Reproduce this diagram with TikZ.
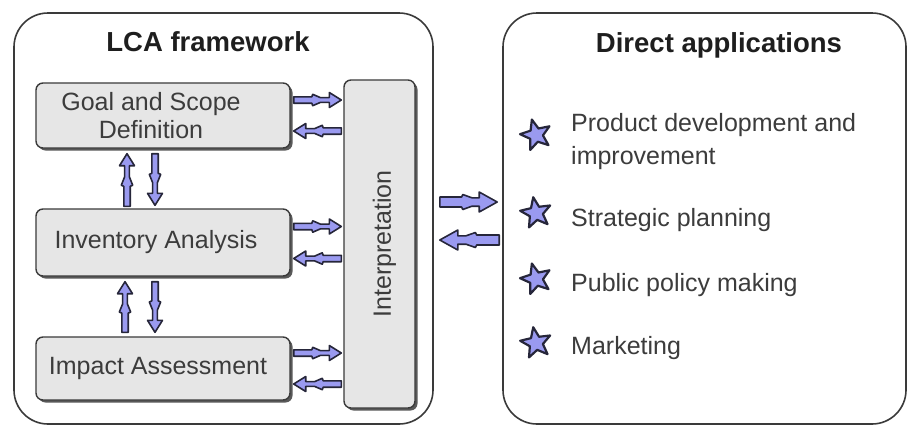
\documentclass[tikz,border=0pt]{standalone}
\usepackage{fontspec}
\setmainfont{Liberation Sans}
\usetikzlibrary{calc,shapes.geometric,shadows}

\definecolor{boxfill}{HTML}{E6E6E6}
\definecolor{boxline}{HTML}{3A3A3A}
\definecolor{txt}{HTML}{3C3C3C}
\definecolor{headtxt}{HTML}{1E1E1E}
\definecolor{arrowfill}{HTML}{9A9AF0}
\definecolor{arrowline}{HTML}{26263A}

% point at (along, across) in the frame of the current connector
\newcommand\arpt[2]{({\x1+(#1)*(\n2)*1pt-(#2)*(\n3)*1pt},{\y1+(#1)*(\n3)*1pt+(#2)*(\n2)*1pt})}

\tikzset{
  arrowdims/.code args={#1/#2/#3}{\def\bsw{#1}\def\bhw{#2}\def\bhl{#3}},
  barrow/.style={draw=arrowline, fill=arrowfill, line width=1.6pt, line join=round,
    arrowdims=3.2/7.5/12,
    to path={let \p1=(\tikztostart), \p2=(\tikztotarget),
      \n1={veclen(\x2-\x1,\y2-\y1)}, \n2={(\x2-\x1)/\n1}, \n3={(\y2-\y1)/\n1} in
      \arpt{0}{-\bsw} -- \arpt{0.38*\n1}{-\bsw} -- \arpt{0.40*\n1}{-\bsw-2.5}
      -- \arpt{0.56*\n1}{-\bsw+0.8} -- \arpt{\n1-\bhl}{-\bsw+0.8} -- \arpt{\n1-\bhl}{-\bhw}
      -- \arpt{\n1}{0}
      -- \arpt{\n1-\bhl}{\bhw} -- \arpt{\n1-\bhl}{\bsw-0.8} -- \arpt{0.56*\n1}{\bsw-0.8}
      -- \arpt{0.40*\n1}{\bsw+2.5} -- \arpt{0.38*\n1}{\bsw} -- \arpt{0}{\bsw} -- cycle}},
  bigarrow/.style={barrow, arrowdims=5/10/18},
  panel/.style={draw=boxline, line width=1.6pt, rounded corners=34pt, fill=white},
  stage/.style={draw=boxline, line width=1.4pt, rounded corners=7pt, fill=boxfill,
    drop shadow={shadow xshift=2.5pt, shadow yshift=-2.5pt, fill=black!65, opacity=1},
    inner sep=0pt},
  stagetext/.style={text=txt, font=\fontsize{25}{28}\selectfont, align=center, inner sep=0pt},
  heading/.style={text=headtxt, font=\fontsize{27.5}{30}\selectfont\bfseries},
  item/.style={text=txt, font=\fontsize{25}{33}\selectfont, align=left, anchor=west, inner sep=0pt},
  bullet/.style={star, star points=5, star point ratio=2.3, minimum size=32pt, inner sep=0pt,
    draw=arrowline, fill=arrowfill, line width=2.2pt, line join=round},
}

\begin{document}
\begin{tikzpicture}[x=1pt, y=-1pt]
\useasboundingbox (0,0) rectangle (909,426);

% the two panels
\node[panel, minimum width=419pt, minimum height=411pt] (lca) at (223.5,218.5) {};
\node[panel, minimum width=403pt, minimum height=411pt] (apps) at (704.5,218.5) {};
\node[heading] (lcat) at (208,42) {LCA framework};
\node[heading] (appst) at (719,45) {Direct applications};

% LCA phases
\node[stage, minimum width=254pt, minimum height=65pt] (goal) at (163,115.5) {};
\node[stage, minimum width=254pt, minimum height=67pt] (inv) at (163,242.5) {};
\node[stage, minimum width=254pt, minimum height=63pt] (imp) at (163,368.5) {};
\node[stage, minimum width=71pt, minimum height=328pt] (interp) at (379.5,244) {};
\node[stagetext] (goalt) at ($(goal.center)+(-12,0)$) {Goal and Scope\\Definition};
\node[stagetext] (invt) at ($(inv.center)+(-7,0)$) {Inventory Analysis};
\node[stagetext] (impt) at ($(imp.center)+(-5,0)$) {Impact Assessment};
\node[stagetext, rotate=90] (interpt) at ($(interp.center)+(5,0)$) {Interpretation};

% phase <-> interpretation
\foreach \b/\d in {goal/15.5, inv/16, imp/15.5} {
  \coordinate (\b-r) at ($(\b.east)+(3,-\d)$);
  \coordinate (\b-l) at ($(\b.east)+(3,\d)$);
  \draw[barrow] (\b-r) to ($(\b-r -| interp.west)+(-2,0)$);
  \draw[barrow] ($(\b-l -| interp.west)+(-2,0)$) to (\b-l);
}

% phase <-> phase
\coordinate (gu) at ($(inv.north)+(-36,-2)$);
\coordinate (gd) at ($(goal.south)+(-8,5)$);
\draw[barrow] (gu) to ($(gu |- goal.south)+(0,5)$);
\draw[barrow] (gd) to ($(gd |- inv.north)+(0,-3)$);
\coordinate (iu) at ($(imp.north)+(-38,-4)$);
\coordinate (id) at ($(inv.south)+(-8,5)$);
\draw[barrow] (iu) to ($(iu |- inv.south)+(0,5)$);
\draw[barrow] (id) to ($(id |- imp.north)+(0,-4)$);

% framework <-> applications
\coordinate (pr) at ($(lca.east |- 0,202)+(6,0)$);
\coordinate (pl) at ($(lca.east |- 0,240)+(6,0)$);
\draw[bigarrow] (pr) to ($(pr -| apps.west)+(-5,0)$);
\draw[bigarrow] ($(pl -| apps.west)+(-3,0)$) to (pl);

% applications list
\node[bullet, rotate=15] (s1) at (536,135) {};
\node[bullet, rotate=10] (s2) at (536,213) {};
\node[bullet, rotate=15] (s3) at (536,279) {};
\node[bullet, rotate=10] (s4) at (536,343) {};
\node[item] (a1) at (571,141.5) {Product development and\\improvement};
\node[item] (a2) at (571,220) {Strategic planning};
\node[item] (a3) at (571,285) {Public policy making};
\node[item] (a4) at (571,348) {Marketing};
\end{tikzpicture}
\end{document}
